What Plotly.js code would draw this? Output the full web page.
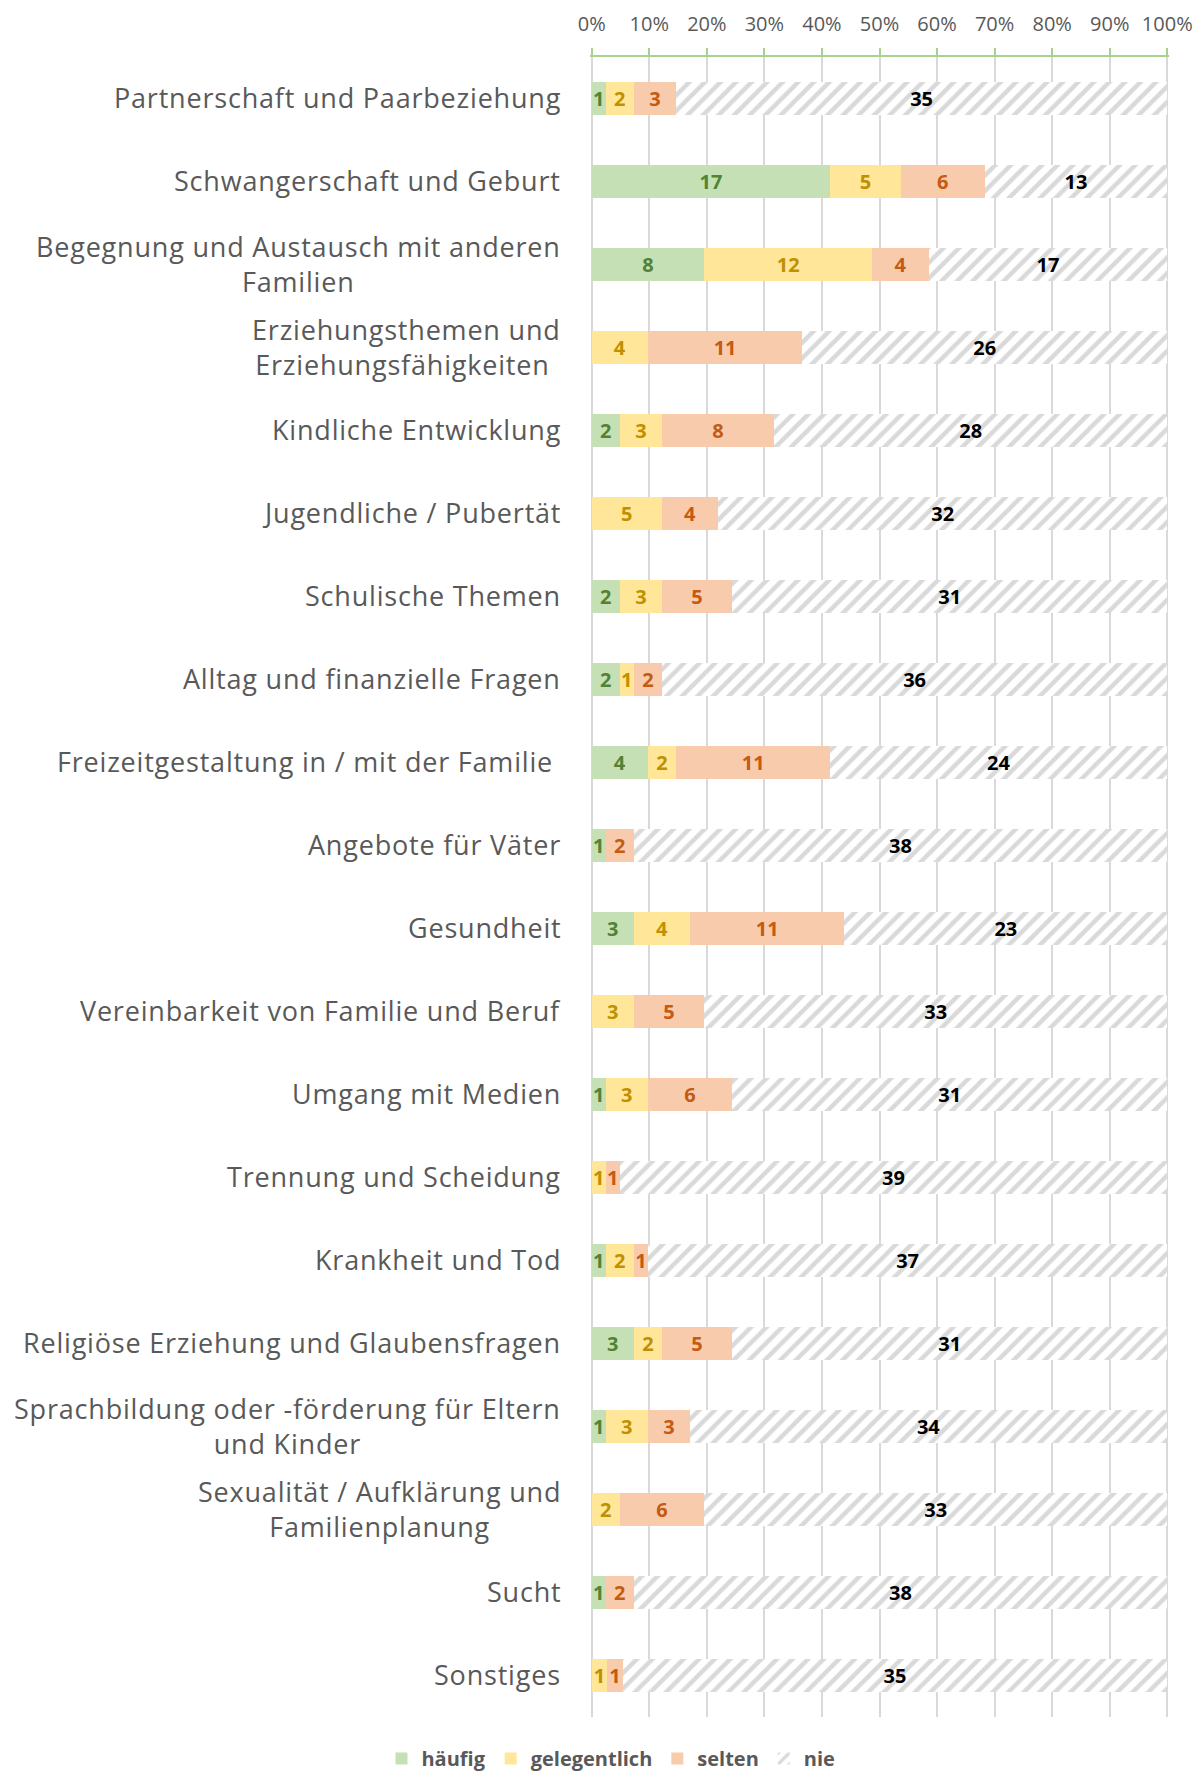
<!DOCTYPE html>
<html>
<head>
<meta charset="utf-8">
<script src="https://cdn.plot.ly/plotly-3.0.1.min.js"></script>
<style>html,body{margin:0;padding:0;background:#fff;}</style>
</head>
<body>
<div id="chart" style="width:1198px;height:1778px;"></div>
<script>
const categories = [
  'Partnerschaft und Paarbeziehung',
  'Schwangerschaft und Geburt',
  'Begegnung und Austausch mit anderen<br>Familien',
  'Erziehungsthemen und<br>Erziehungsfähigkeiten\u00a0',
  'Kindliche Entwicklung',
  'Jugendliche / Pubertät',
  'Schulische Themen',
  'Alltag und finanzielle Fragen',
  'Freizeitgestaltung in / mit der Familie\u00a0',
  'Angebote für Väter',
  'Gesundheit',
  'Vereinbarkeit von Familie und Beruf',
  'Umgang mit Medien',
  'Trennung und Scheidung',
  'Krankheit und Tod',
  'Religiöse Erziehung und Glaubensfragen',
  'Sprachbildung oder -förderung für Eltern<br>und Kinder',
  'Sexualität / Aufklärung und<br>Familienplanung',
  'Sucht',
  'Sonstiges'
];
const haeufig      = [1, 17, 8, 0, 2, 0, 2, 2, 4, 1, 3, 0, 1, 0, 1, 3, 1, 0, 1, 0];
const gelegentlich = [2, 5, 12, 4, 3, 5, 3, 1, 2, 0, 4, 3, 3, 1, 2, 2, 3, 2, 0, 1];
const selten       = [3, 6, 4, 11, 8, 4, 5, 2, 11, 2, 11, 5, 6, 1, 1, 5, 3, 6, 2, 1];
const nie          = [35, 13, 17, 26, 28, 32, 31, 36, 24, 38, 23, 33, 31, 39, 37, 31, 34, 33, 38, 35];
const seriesNames  = ['häufig', 'gelegentlich', 'selten', 'nie'];
const tickVals     = [0, 10, 20, 30, 40, 50, 60, 70, 80, 90, 100];
const tickLabels   = ['0%', '10%', '20%', '30%', '40%', '50%', '60%', '70%', '80%', '90%', '100%'];

const FONT = 'Open Sans, Noto Sans, sans-serif';
const labelText = v => v.map(n => n > 0 ? String(n) : '');
const spaced = s => s.split('<br>').map(l => '<span style="letter-spacing:0.8px">' + l + '</span>').join('<br>');

function barTrace(name, vals, fill, txtColor, pattern) {
  const marker = {color: fill, line: {width: 0}};
  if (pattern) marker.pattern = pattern;
  return {
    type: 'bar', orientation: 'h', name: name,
    y: categories, x: vals,
    text: labelText(vals), texttemplate: '%{text}',
    textposition: 'inside', insidetextanchor: 'middle', textangle: 0,
    constraintext: 'none', cliponaxis: false,
    textfont: {family: FONT, size: 20, color: txtColor, weight: 700},
    insidetextfont: {family: FONT, size: 20, color: txtColor, weight: 700},
    marker: marker, hoverinfo: 'skip'
  };
}

const data = [
  barTrace(seriesNames[0], haeufig, '#C5E0B4', '#548235'),
  barTrace(seriesNames[1], gelegentlich, '#FFE699', '#BF9000'),
  barTrace(seriesNames[2], selten, '#F8CBAD', '#C55A11'),
  barTrace(seriesNames[3], nie, '#FFFFFF', '#000000',
    {shape: '/', fgcolor: '#D9D9D9', bgcolor: '#FFFFFF', size: 11, solidity: 0.4})
];

const annotations = categories.map(c => ({
  x: 0, xref: 'paper', xanchor: 'right', xshift: -27,
  y: c, yref: 'y', yanchor: 'middle', yshift: 1,
  text: spaced(c), showarrow: false, align: 'center',
  font: {family: FONT, size: 27, color: '#595959'}
}));

const xRange = [-0.3, 100.3];

const layout = {
  width: 1198, height: 1778,
  margin: {l: 590, r: 29, t: 57, b: 61, pad: 0},
  paper_bgcolor: '#FFFFFF', plot_bgcolor: '#FFFFFF',
  barmode: 'stack', barnorm: 'percent', bargap: 0.6,
  font: {family: FONT, color: '#595959'},
  xaxis: {
    side: 'top', range: xRange, tickmode: 'array', tickvals: tickVals, ticktext: tickLabels,
    showline: true, linecolor: '#A9D18E', linewidth: 2,
    ticks: 'outside', ticklen: 7, tickwidth: 2, tickcolor: '#A9D18E',
    ticklabelstandoff: 9,
    showgrid: true, gridcolor: '#D9D9D9', gridwidth: 2, zeroline: false,
    tickfont: {family: FONT, size: 20, color: '#595959'},
    fixedrange: true
  },
  xaxis2: {
    overlaying: 'x', side: 'top', anchor: 'y', range: xRange,
    tickmode: 'array', tickvals: tickVals,
    ticks: 'inside', ticklen: 7, tickwidth: 2, tickcolor: '#A9D18E',
    showticklabels: false, showgrid: false, showline: false, zeroline: false,
    fixedrange: true
  },
  yaxis: {
    autorange: 'reversed', type: 'category',
    showticklabels: false, showgrid: false, showline: false, zeroline: false,
    ticks: '', fixedrange: true
  },
  legend: {
    orientation: 'h', xref: 'container', yref: 'container',
    x: 0.51, xanchor: 'center', y: -0.002, yanchor: 'bottom',
    traceorder: 'normal', itemwidth: 30,
    font: {family: FONT, size: 20, color: '#595959', weight: 700}
  },
  showlegend: true,
  annotations: annotations
};

Plotly.newPlot('chart', data, layout, {displayModeBar: false, staticPlot: true});
</script>
</body>
</html>
